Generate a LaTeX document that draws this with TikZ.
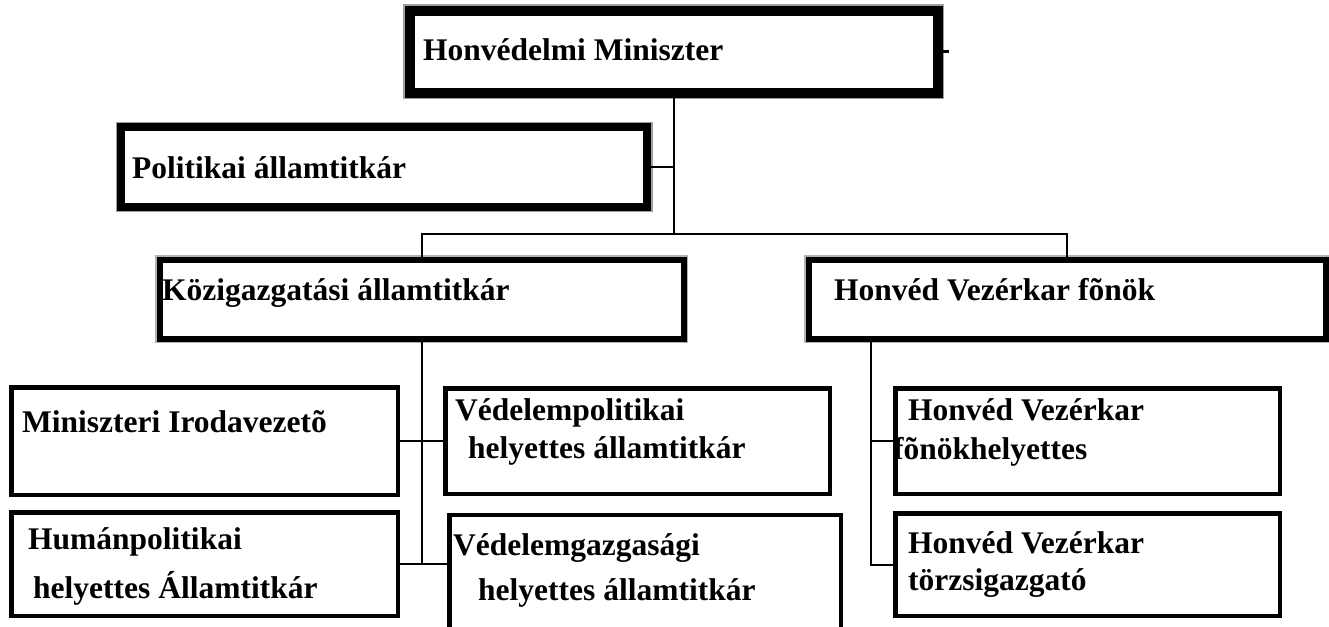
\documentclass[tikz,border=0pt]{standalone}
\usepackage{fontspec}
\setmainfont{Liberation Serif}
\begin{document}
\begin{tikzpicture}[x=1pt,y=-1pt,
  topbox/.style={draw=black, fill=white, inner sep=0pt, line width=10pt, preaction={draw=gray!75, line width=13pt}},
  polbox/.style={draw=black, fill=white, inner sep=0pt, line width=8pt, preaction={draw=gray!75, line width=11pt}},
  midbox/.style={draw=black, fill=white, inner sep=0pt, line width=6pt, preaction={draw=gray!60, line width=9pt}},
  lowbox/.style={draw=black, fill=white, inner sep=0pt, line width=4.5pt},
  conn/.style={draw=black, line width=2pt},
  lbl/.style={anchor=base west, inner sep=0pt, font=\fontsize{31.5pt}{36pt}\selectfont\bfseries}
]
\useasboundingbox (0,0) rectangle (1329,626);

% boxes
\node[topbox, minimum width=528pt, minimum height=81.5pt] (top) at (673.5,51.75) {};
\node[polbox, minimum width=526pt, minimum height=79.5pt] (pol) at (384,166.75) {};
\node[midbox, minimum width=524pt, minimum height=79pt] (kozig) at (421.5,299) {};
\node[midbox, minimum width=517pt, minimum height=79pt] (hvk) at (1067,299) {};
\node[lowbox, minimum width=386.5pt, minimum height=107.5pt] (minis) at (204.5,441) {};
\node[lowbox, minimum width=386.5pt, minimum height=103.5pt] (human) at (204.5,564) {};
\node[lowbox, minimum width=384.5pt, minimum height=105.5pt] (vp) at (637.5,441) {};
\node[lowbox, minimum width=391.5pt, minimum height=124.75pt] (vg) at (645,577.6) {};
\node[lowbox, minimum width=384.5pt, minimum height=105.5pt] (hh) at (1087.5,441) {};
\node[lowbox, minimum width=384.5pt, minimum height=102.5pt] (tz) at (1087.5,564.5) {};

% connector helpers
\coordinate (bar) at (673.5,234);
\coordinate (hv) at (871,0);

% connectors
\draw[conn] (top.south) -- (bar);
\draw[conn] (pol.east) -- (pol.east -| bar);
\draw[conn] (kozig.north) |- (bar) -| (hvk.north);
\draw[conn] (kozig.south) -- (kozig.south |- human.east);
\draw[conn] (minis.east) -- (vp.west);
\draw[conn] (human.east) -- (vg.west |- human.east);
\draw[conn] (hv |- hvk.south) -- (hv |- tz.west) -- (tz.west);
\draw[conn] (hv |- hh.west) -- (hh.west);
\draw[line width=3pt] (top.east) -- ++(6,0);

% labels
\node[lbl] (ltop) at (423,60) {Honvédelmi Miniszter};
\node[lbl] (lpol) at (132,178) {Politikai államtitkár};
\node[lbl] (lkoz) at (162,300) {Közigazgatási államtitkár};
\node[lbl] (lhvk) at (834,300) {Honvéd Vezérkar fõnök};
\node[lbl] (lmin) at (22,432) {Miniszteri Irodavezetõ};
\node[lbl] (lhum1) at (28,549) {Humánpolitikai};
\node[lbl] (lhum2) at (33,598) {helyettes Államtitkár};
\node[lbl] (lvp1) at (455,420) {Védelempolitikai};
\node[lbl] (lvp2) at (468,458) {helyettes államtitkár};
\node[lbl] (lvg1) at (453,555) {Védelemgazgasági};
\node[lbl] (lvg2) at (478,600) {helyettes államtitkár};
\node[lbl] (lhh1) at (908,420) {Honvéd Vezérkar};
\node[lbl] (lhh2) at (893,459) {fõnökhelyettes};
\node[lbl] (ltz1) at (908,553) {Honvéd Vezérkar};
\node[lbl] (ltz2) at (908,590) {törzsigazgató};
\end{tikzpicture}
\end{document}
